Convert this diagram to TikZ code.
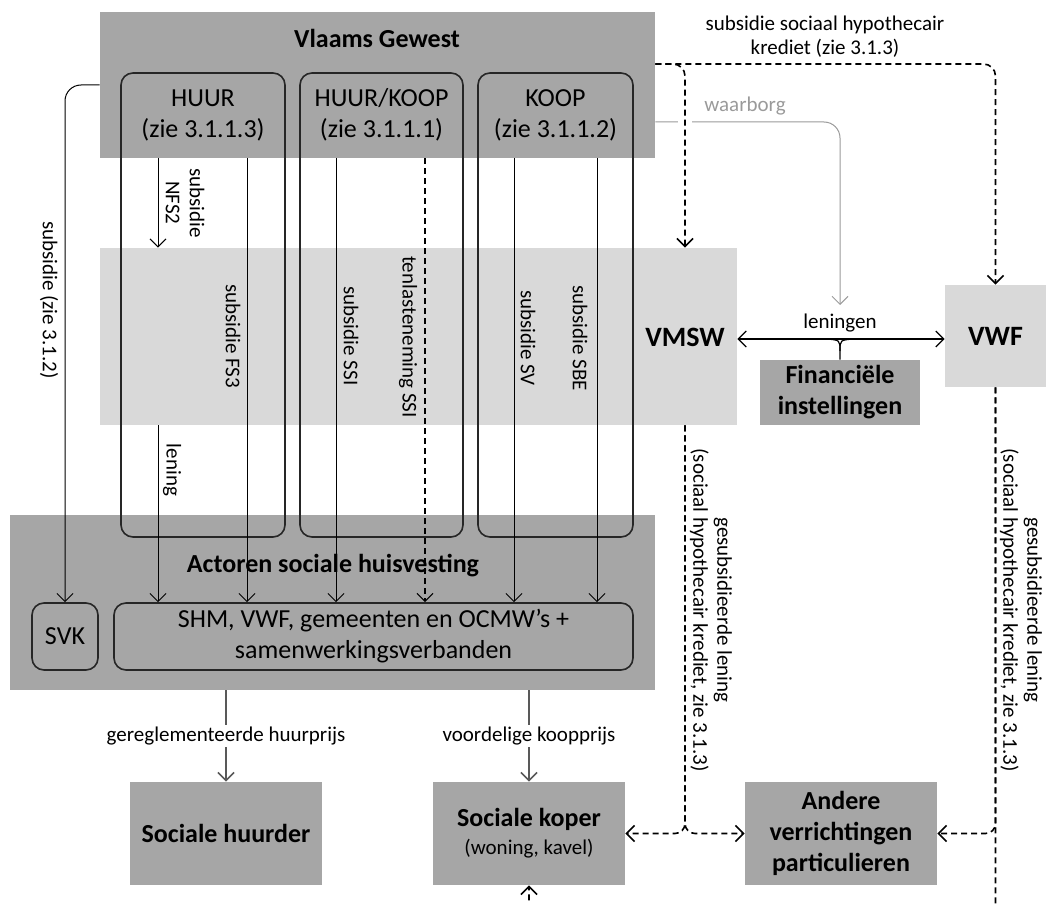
\documentclass[tikz,border=0pt]{standalone}
\usepackage{fontspec}
\setmainfont{Carlito}
\usepackage{tikz}
\usetikzlibrary{arrows.meta}

\definecolor{darkbox}{HTML}{A6A6A6}
\definecolor{lightbox}{HTML}{D9D9D9}
\definecolor{flowgrey}{HTML}{595959}
\definecolor{wbgrey}{HTML}{9A9A9A}

\tikzset{
  boxtxt/.style={font=\fontsize{13}{15.5}\selectfont},
  boxbold/.style={font=\fontsize{13}{15.5}\selectfont\bfseries},
  lbl/.style={font=\fontsize{10.5}{12}\selectfont, inner sep=1pt},
  vlbl/.style={lbl, rotate=-90, align=center},
  darkfill/.style={fill=darkbox, inner sep=0pt},
  lightfill/.style={fill=lightbox, inner sep=0pt},
  kolom/.style={draw=black!85, line width=0.8pt, rounded corners=6pt, inner sep=0pt},
  arr/.style={-{Straight Barb[length=4pt,width=8pt]}, line width=0.5pt},
  arr2/.style={{Straight Barb[length=4pt,width=8pt]}-{Straight Barb[length=4pt,width=8pt]}, line width=0.6pt},
  darr/.style={arr, line width=0.8pt, dash pattern=on 3pt off 2pt},
  tarr/.style={arr, line width=0.6pt, dash pattern=on 3pt off 2pt},
  garr/.style={arr, draw=flowgrey, line width=0.8pt},
}

\begin{document}
\begin{tikzpicture}[x=0.5pt, y=-0.5pt]
\useasboundingbox (0,0) rectangle (1046,904);

% grote vlakken
\node[darkfill, minimum width=277.5pt, minimum height=73pt] (vg) at (377.5,85) {};
\node[boxbold] (vgtitle) at (377,38) {Vlaams Gewest};
\node[lightfill, minimum width=318.5pt, minimum height=88.5pt] (vmsw) at (418.5,336.5) {};
\node[font=\fontsize{14}{16}\selectfont\bfseries] (vmswtxt) at (685,337) {VMSW};
\node[lightfill, minimum width=50.5pt, minimum height=51pt, font=\fontsize{14}{16}\selectfont\bfseries] (vwf) at (995.5,336) {VWF};
\node[darkfill, minimum width=80pt, minimum height=32.5pt, boxbold, align=center] (fin) at (840,392.5) {Financiële\\instellingen};
\node[darkfill, minimum width=322.5pt, minimum height=87.5pt] (actoren) at (332.5,602.5) {};
\node[boxbold] (actitle) at (333,566) {Actoren sociale huisvesting};

% kolommen
\node[kolom, minimum width=82pt, minimum height=232pt] (huur) at (203,305) {};
\node[kolom, minimum width=81.5pt, minimum height=232pt] (huurkoop) at (381.5,305) {};
\node[kolom, minimum width=77.5pt, minimum height=232pt] (koop) at (555.5,305) {};
\node[boxtxt, align=center] (huurtxt) at (203,115) {HUUR\\(zie 3.1.1.3)};
\node[boxtxt, align=center] (huurkooptxt) at (381.5,115) {HUUR/KOOP\\(zie 3.1.1.1)};
\node[boxtxt, align=center] (kooptxt) at (555.5,115) {KOOP\\(zie 3.1.1.2)};

% actoren
\node[kolom, minimum width=33pt, minimum height=33.5pt, boxtxt] (svk) at (65,636.5) {SVK};
\node[kolom, minimum width=259.5pt, minimum height=33.5pt, boxtxt, align=center] (shm) at (373.5,636.5) {SHM, VWF, gemeenten en OCMW’s +\\samenwerkingsverbanden};

% onderste vakken
\node[darkfill, minimum width=96pt, minimum height=51.5pt, boxbold] (huurder) at (226,833.5) {Sociale huurder};
\node[darkfill, minimum width=96pt, minimum height=51.5pt, align=center] (koper) at (529,833.5) {{\fontsize{13}{15.5}\selectfont\bfseries Sociale koper}\\[2pt]{\fontsize{10.5}{12}\selectfont (woning, kavel)}};
\node[darkfill, minimum width=96pt, minimum height=51.5pt, boxbold, align=center] (andere) at (841,833.5) {Andere\\verrichtingen\\particulieren};

% kolomlijnen
\coordinate (xnfs) at (158,0);
\coordinate (xfs3) at (247,0);
\coordinate (xssi) at (336,0);
\coordinate (xten) at (425,0);
\coordinate (xsv) at (514,0);
\coordinate (xsbe) at (597,0);
\draw[arr] (xnfs |- vg.south) -- (xnfs |- vmsw.north);
\draw[arr] (xnfs |- vmsw.south) -- (xnfs |- shm.north);
\draw[arr] (xfs3 |- vg.south) -- (xfs3 |- shm.north);
\draw[arr] (xssi |- vg.south) -- (xssi |- shm.north);
\draw[tarr] (xten |- vg.south) -- (xten |- shm.north);
\draw[arr] (xsv |- vg.south) -- (xsv |- shm.north);
\draw[arr] (xsbe |- vg.south) -- (xsbe |- shm.north);

\node[vlbl] (nfstxt) at (185,203) {subsidie\\NFS2};
\node[vlbl] (leningtxt) at (172,470) {lening};
\node[vlbl] (fs3txt) at (233,336) {subsidie FS3};
\node[vlbl] (ssitxt) at (351,336) {subsidie SSI};
\node[vlbl] (tentxt) at (408,337) {tenlasteneming SSI};
\node[vlbl] (svtxt) at (528,338) {subsidie SV};
\node[vlbl] (sbetxt) at (580,338) {subsidie SBE};

% SVK
\coordinate (ysvk) at (0,85);
\draw[arr, rounded corners=8pt] (ysvk -| vg.west) -| (svk.north);
\node[vlbl] (svktxt) at (49,300) {subsidie (zie 3.1.2)};

% waarborg
\coordinate (ywb) at (0,122);
\coordinate (wbend) at (840,305);
\draw[arr, draw=wbgrey, rounded corners=8pt] (ywb -| vg.east) -| (wbend);
\node[lbl, text=wbgrey] (wbtxt) at (745,106) {waarborg};
\fill[white] (678,116) rectangle (692,128);

% sociaal hypothecair krediet
\coordinate (yshk) at (0,64);
\draw[darr, rounded corners=6pt] (yshk -| vg.east) -| (vmswtxt |- vmsw.north);
\draw[darr, rounded corners=6pt] (yshk -| vg.east) -| (vwf.north);
\node[lbl, align=center] (shktxt) at (825,37) {subsidie sociaal hypothecair\\krediet (zie 3.1.3)};

% leningen
\coordinate (ylen) at (0,339);
\draw[arr2] (ylen -| vmsw.east) -- (ylen -| vwf.west);
\draw[line width=0.6pt] (fin.north) -- (840,351) .. controls (840,340) .. (826,339);
\draw[line width=0.6pt] (840,351) .. controls (840,340) .. (854,339);
\node[lbl] (lentxt) at (840,323) {leningen};

% huurprijs en koopprijs
\draw[garr] (huurder.north |- actoren.south) -- node[lbl, fill=white] (hptxt) {gereglementeerde huurprijs} (huurder.north);
\draw[garr] (koper.north |- actoren.south) -- node[lbl, fill=white] (kptxt) {voordelige koopprijs} (koper.north);

% gesubsidieerde leningen
\draw[darr, rounded corners=5pt] (vmswtxt |- vmsw.south) |- (koper.east);
\draw[darr, rounded corners=5pt] (vmswtxt |- vmsw.south) |- (andere.west);
\node[vlbl] (glvmsw) at (711,610) {gesubsidieerde lening\\(sociaal hypothecair krediet, zie 3.1.3)};
\coordinate (kbot) at (529,925);
\draw[darr, rounded corners=5pt] (vwf.south) |- (andere.east);
\draw[darr, rounded corners=5pt] (vwf.south) |- (kbot) -- (koper.south);
\node[vlbl] (glvwf) at (1021,610) {gesubsidieerde lening\\(sociaal hypothecair krediet, zie 3.1.3)};
\end{tikzpicture}
\end{document}
